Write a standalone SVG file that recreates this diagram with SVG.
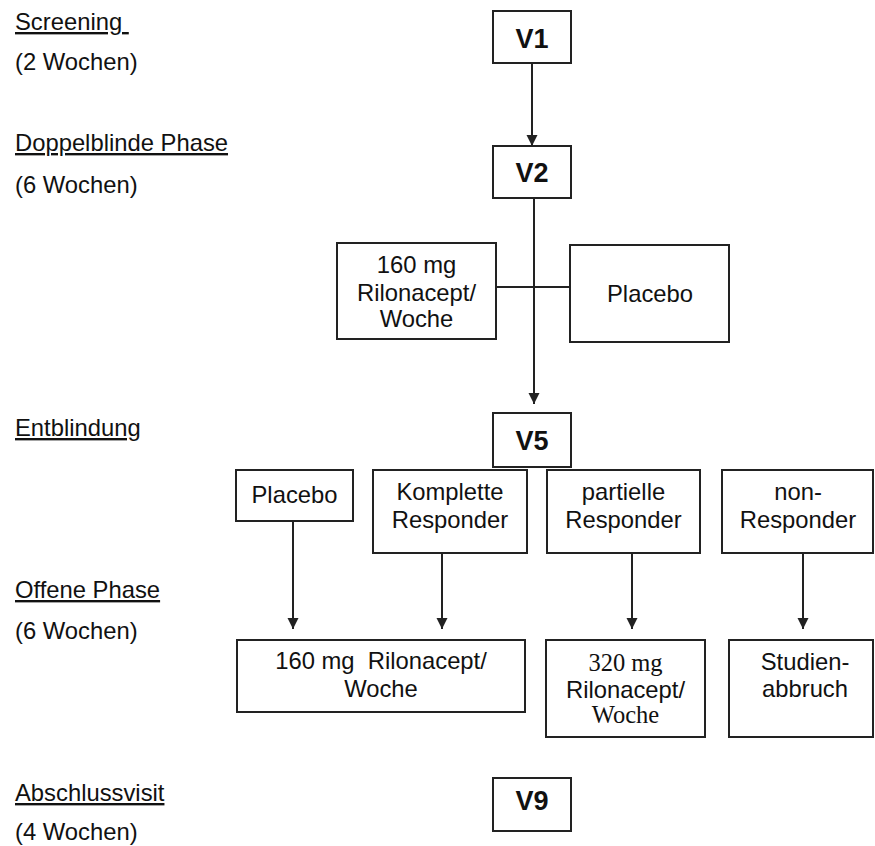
<svg xmlns="http://www.w3.org/2000/svg" width="875" height="846" viewBox="0 0 875 846">
<style>
  .box { fill: #fff; stroke: #222; stroke-width: 2; }
  .t { font-family: "Liberation Sans", Arial, sans-serif; font-size: 23.8px; fill: #111; white-space: pre; }
  .c { text-anchor: middle; }
  .v { font-family: "Liberation Sans", Arial, sans-serif; font-size: 27px; font-weight: bold; fill: #111; text-anchor: middle; }
  .s { font-family: "Liberation Serif", "Times New Roman", serif; font-size: 24.5px; fill: #111; text-anchor: middle; }
  .u { text-decoration: underline; }
  .ln { fill: none; stroke: #222; stroke-width: 2; }
</style>
<defs>
  <marker id="ah" markerUnits="userSpaceOnUse" markerWidth="14" markerHeight="14" refX="11" refY="5.5" orient="auto">
    <path d="M0,0 L11,5.5 L0,11 Z" fill="#222"/>
  </marker>
</defs>
<rect width="875" height="846" fill="#fff"/>

<g id="phase-labels">
  <text class="t u" x="15" y="30">Screening </text>
  <text class="t" x="15" y="70">(2 Wochen)</text>
  <text class="t u" x="15" y="151">Doppelblinde Phase</text>
  <text class="t" x="15" y="193">(6 Wochen)</text>
  <text class="t u" x="15" y="436">Entblindung</text>
  <text class="t u" x="15" y="598">Offene Phase</text>
  <text class="t" x="15" y="639">(6 Wochen)</text>
  <text class="t u" x="15" y="801">Abschlussvisit</text>
  <text class="t" x="15" y="840">(4 Wochen)</text>
</g>

<g id="connectors">
  <line class="ln" x1="532" y1="63" x2="532" y2="146" marker-end="url(#ah)"/>
  <line class="ln" x1="534" y1="198" x2="534" y2="404" marker-end="url(#ah)"/>
  <line class="ln" x1="496" y1="287" x2="570" y2="287"/>
  <line class="ln" x1="293" y1="521" x2="293" y2="629" marker-end="url(#ah)"/>
  <line class="ln" x1="442" y1="553" x2="442" y2="629" marker-end="url(#ah)"/>
  <line class="ln" x1="632" y1="553" x2="632" y2="629" marker-end="url(#ah)"/>
  <line class="ln" x1="803" y1="553" x2="803" y2="629" marker-end="url(#ah)"/>
</g>

<g id="V1">
  <rect class="box" x="493" y="11" width="78" height="52"/>
  <text class="v" x="532" y="48">V1</text>
</g>
<g id="V2">
  <rect class="box" x="493" y="146" width="78" height="52"/>
  <text class="v" x="532" y="182">V2</text>
</g>
<g id="dose160-blind">
  <rect class="box" x="337" y="243" width="159" height="96"/>
  <text class="t c" x="416.5" y="273">160 mg</text>
  <text class="t c" x="416.5" y="301">Rilonacept/</text>
  <text class="t c" x="416.5" y="327">Woche</text>
</g>
<g id="placebo-blind">
  <rect class="box" x="570" y="245" width="159" height="97"/>
  <text class="t c" x="650" y="302">Placebo</text>
</g>
<g id="V5">
  <rect class="box" x="493" y="413" width="78" height="54"/>
  <text class="v" x="532" y="450">V5</text>
</g>
<g id="placebo-open">
  <rect class="box" x="236" y="470" width="117" height="51"/>
  <text class="t c" x="294.5" y="503">Placebo</text>
</g>
<g id="komplette">
  <rect class="box" x="373" y="470" width="154" height="83"/>
  <text class="t c" x="450" y="500">Komplette</text>
  <text class="t c" x="450" y="528">Responder</text>
</g>
<g id="partielle">
  <rect class="box" x="547" y="470" width="153" height="83"/>
  <text class="t c" x="623.5" y="500">partielle</text>
  <text class="t c" x="623.5" y="528">Responder</text>
</g>
<g id="non-responder">
  <rect class="box" x="722" y="470" width="151" height="83"/>
  <text class="t c" x="798" y="500">non-</text>
  <text class="t c" x="798" y="528">Responder</text>
</g>
<g id="dose160-open">
  <rect class="box" x="237" y="640" width="288" height="72"/>
  <text class="t c" x="381" y="669">160 mg  Rilonacept/</text>
  <text class="t c" x="381" y="697">Woche</text>
</g>
<g id="dose320">
  <rect class="box" x="546" y="640" width="159" height="97"/>
  <text class="s" x="625.5" y="671">320 mg</text>
  <text class="t c" x="625.5" y="698">Rilonacept/</text>
  <text class="s" x="625.5" y="723">Woche</text>
</g>
<g id="abbruch">
  <rect class="box" x="729" y="640" width="144" height="97"/>
  <text class="t c" x="805" y="670">Studien-</text>
  <text class="t c" x="805" y="697">abbruch</text>
</g>
<g id="V9">
  <rect class="box" x="493" y="778" width="78" height="53"/>
  <text class="v" x="532" y="810">V9</text>
</g>
</svg>
